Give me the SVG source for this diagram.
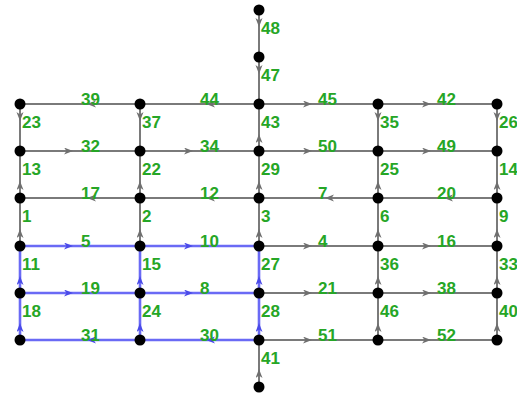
<svg xmlns="http://www.w3.org/2000/svg" width="517" height="394" viewBox="0 0 517 394">
<defs>
<marker id="ag" markerWidth="10" markerHeight="8" refX="9" refY="3.5" orient="auto" markerUnits="userSpaceOnUse"><path d="M0,0 L9,3.5 L0,7 L2.5,3.5 z" fill="#6f6f6f"/></marker>
<marker id="ab" markerWidth="10" markerHeight="8" refX="9" refY="3.5" orient="auto" markerUnits="userSpaceOnUse"><path d="M0,0 L9,3.5 L0,7 L2.5,3.5 z" fill="#4a4ae8"/></marker>
</defs>
<style>
.g{stroke:#7a7a7a;stroke-width:2;fill:none;marker-mid:url(#ag)}
.b{stroke:#6a6af5;stroke-width:2.6;fill:none;marker-mid:url(#ab)}
.n{fill:#000}
text{font-family:"Liberation Sans",Arial,sans-serif;font-size:17px;font-weight:bold;fill:#26a626}
</style>
<rect width="517" height="394" fill="#fff"/>
<g id="edges">
<path class="g" d="M140,104 L87,104 L20,104"/>
<path class="g" d="M259,104 L206,104 L140,104"/>
<path class="g" d="M259,104 L312,104 L378,104"/>
<path class="g" d="M378,104 L431,104 L497,104"/>
<path class="g" d="M20,151 L73,151 L140,151"/>
<path class="g" d="M140,151 L193,151 L259,151"/>
<path class="g" d="M259,151 L312,151 L378,151"/>
<path class="g" d="M378,151 L431,151 L497,151"/>
<path class="g" d="M140,198 L87,198 L20,198"/>
<path class="g" d="M259,198 L206,198 L140,198"/>
<path class="g" d="M378,198 L325,198 L259,198"/>
<path class="g" d="M497,198 L444,198 L378,198"/>
<path class="g" d="M259,246 L312,246 L378,246"/>
<path class="g" d="M378,246 L431,246 L497,246"/>
<path class="g" d="M259,293 L312,293 L378,293"/>
<path class="g" d="M378,293 L431,293 L497,293"/>
<path class="g" d="M259,340 L312,340 L378,340"/>
<path class="g" d="M378,340 L431,340 L497,340"/>
<path class="g" d="M20,104 L20,121 L20,151"/>
<path class="g" d="M20,198 L20,181 L20,151"/>
<path class="g" d="M20,246 L20,229 L20,198"/>
<path class="g" d="M140,104 L140,121 L140,151"/>
<path class="g" d="M140,198 L140,181 L140,151"/>
<path class="g" d="M140,246 L140,229 L140,198"/>
<path class="g" d="M259,10 L259,27 L259,57"/>
<path class="g" d="M259,57 L259,74 L259,104"/>
<path class="g" d="M259,151 L259,134 L259,104"/>
<path class="g" d="M259,198 L259,181 L259,151"/>
<path class="g" d="M259,246 L259,229 L259,198"/>
<path class="g" d="M259,387 L259,369 L259,340"/>
<path class="g" d="M378,104 L378,121 L378,151"/>
<path class="g" d="M378,198 L378,181 L378,151"/>
<path class="g" d="M378,246 L378,229 L378,198"/>
<path class="g" d="M378,293 L378,276 L378,246"/>
<path class="g" d="M378,340 L378,323 L378,293"/>
<path class="g" d="M497,104 L497,121 L497,151"/>
<path class="g" d="M497,198 L497,181 L497,151"/>
<path class="g" d="M497,246 L497,229 L497,198"/>
<path class="g" d="M497,293 L497,276 L497,246"/>
<path class="g" d="M497,340 L497,323 L497,293"/>
<path class="b" d="M20,246 L73,246 L140,246"/>
<path class="b" d="M140,246 L193,246 L259,246"/>
<path class="b" d="M20,293 L73,293 L140,293"/>
<path class="b" d="M140,293 L193,293 L259,293"/>
<path class="b" d="M140,340 L87,340 L20,340"/>
<path class="b" d="M259,340 L206,340 L140,340"/>
<path class="b" d="M20,293 L20,276 L20,246"/>
<path class="b" d="M20,340 L20,323 L20,293"/>
<path class="b" d="M140,293 L140,276 L140,246"/>
<path class="b" d="M140,340 L140,323 L140,293"/>
<path class="b" d="M259,293 L259,276 L259,246"/>
<path class="b" d="M259,340 L259,323 L259,293"/>
<text x="81" y="105">39</text><text x="200" y="105">44</text><text x="318" y="105">45</text><text x="437" y="105">42</text>
<text x="81" y="152">32</text><text x="200" y="152">34</text><text x="318" y="152">50</text><text x="437" y="152">49</text>
<text x="81" y="199">17</text><text x="200" y="199">12</text><text x="318" y="199">7</text><text x="437" y="199">20</text>
<text x="81" y="247">5</text><text x="200" y="247">10</text><text x="318" y="247">4</text><text x="437" y="247">16</text>
<text x="81" y="294">19</text><text x="200" y="294">8</text><text x="318" y="294">21</text><text x="437" y="294">38</text>
<text x="81" y="341">31</text><text x="200" y="341">30</text><text x="318" y="341">51</text><text x="437" y="341">52</text>
<text x="22" y="128">23</text><text x="22" y="175">13</text><text x="22" y="222">1</text><text x="22" y="270">11</text><text x="22" y="317">18</text>
<text x="142" y="128">37</text><text x="142" y="175">22</text><text x="142" y="222">2</text><text x="142" y="270">15</text><text x="142" y="317">24</text>
<text x="261" y="34">48</text><text x="261" y="81">47</text>
<text x="261" y="128">43</text><text x="261" y="175">29</text><text x="261" y="222">3</text><text x="261" y="270">27</text><text x="261" y="317">28</text><text x="261" y="364">41</text>
<text x="380" y="128">35</text><text x="380" y="175">25</text><text x="380" y="222">6</text><text x="380" y="270">36</text><text x="380" y="317">46</text>
<text x="499" y="128">26</text><text x="499" y="175">14</text><text x="499" y="222">9</text><text x="499" y="270">33</text><text x="499" y="317">40</text>
</g>
<g id="nodes">
<g id="top1"><circle class="n" cx="259" cy="10" r="5.5"/></g>
<g id="top2"><circle class="n" cx="259" cy="57" r="5.5"/></g>
<g id="bottom"><circle class="n" cx="259" cy="387" r="5.5"/></g>
<g id="r0c0"><circle class="n" cx="20" cy="104" r="5.5"/></g>
<g id="r0c1"><circle class="n" cx="140" cy="104" r="5.5"/></g>
<g id="r0c2"><circle class="n" cx="259" cy="104" r="5.5"/></g>
<g id="r0c3"><circle class="n" cx="378" cy="104" r="5.5"/></g>
<g id="r0c4"><circle class="n" cx="497" cy="104" r="5.5"/></g>
<g id="r1c0"><circle class="n" cx="20" cy="151" r="5.5"/></g>
<g id="r1c1"><circle class="n" cx="140" cy="151" r="5.5"/></g>
<g id="r1c2"><circle class="n" cx="259" cy="151" r="5.5"/></g>
<g id="r1c3"><circle class="n" cx="378" cy="151" r="5.5"/></g>
<g id="r1c4"><circle class="n" cx="497" cy="151" r="5.5"/></g>
<g id="r2c0"><circle class="n" cx="20" cy="198" r="5.5"/></g>
<g id="r2c1"><circle class="n" cx="140" cy="198" r="5.5"/></g>
<g id="r2c2"><circle class="n" cx="259" cy="198" r="5.5"/></g>
<g id="r2c3"><circle class="n" cx="378" cy="198" r="5.5"/></g>
<g id="r2c4"><circle class="n" cx="497" cy="198" r="5.5"/></g>
<g id="r3c0"><circle class="n" cx="20" cy="246" r="5.5"/></g>
<g id="r3c1"><circle class="n" cx="140" cy="246" r="5.5"/></g>
<g id="r3c2"><circle class="n" cx="259" cy="246" r="5.5"/></g>
<g id="r3c3"><circle class="n" cx="378" cy="246" r="5.5"/></g>
<g id="r3c4"><circle class="n" cx="497" cy="246" r="5.5"/></g>
<g id="r4c0"><circle class="n" cx="20" cy="293" r="5.5"/></g>
<g id="r4c1"><circle class="n" cx="140" cy="293" r="5.5"/></g>
<g id="r4c2"><circle class="n" cx="259" cy="293" r="5.5"/></g>
<g id="r4c3"><circle class="n" cx="378" cy="293" r="5.5"/></g>
<g id="r4c4"><circle class="n" cx="497" cy="293" r="5.5"/></g>
<g id="r5c0"><circle class="n" cx="20" cy="340" r="5.5"/></g>
<g id="r5c1"><circle class="n" cx="140" cy="340" r="5.5"/></g>
<g id="r5c2"><circle class="n" cx="259" cy="340" r="5.5"/></g>
<g id="r5c3"><circle class="n" cx="378" cy="340" r="5.5"/></g>
<g id="r5c4"><circle class="n" cx="497" cy="340" r="5.5"/></g>
</g>
</svg>
